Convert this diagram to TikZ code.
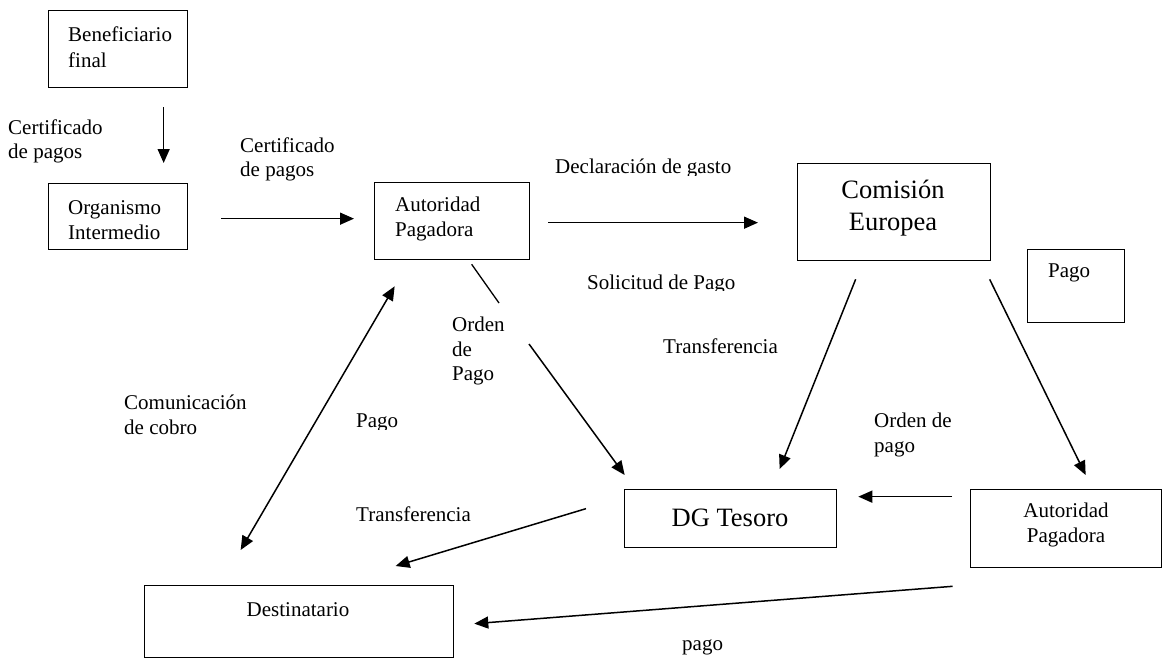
\documentclass[tikz,border=0pt]{standalone}
\usepackage{fontspec}
\setmainfont{Liberation Serif}
\usetikzlibrary{arrows.meta}
\begin{document}
\begin{tikzpicture}[x=1pt,y=-1pt,
  box/.style={draw, line width=1.3pt, inner sep=0pt, anchor=north west},
  lbl/.style={font=\fontsize{21}{24.5}\selectfont, inner sep=0pt, align=left, anchor=west},
  ctr/.style={font=\fontsize{21}{24.5}\selectfont, inner sep=0pt, align=center},
  big/.style={font=\fontsize{26.5}{32}\selectfont, inner sep=0pt, align=center},
  arr/.style={line width=1.5pt, -{Triangle[length=14pt,width=12pt]}},
  darr/.style={line width=1.5pt, {Triangle[length=14pt,width=12pt]}-{Triangle[length=14pt,width=12pt]}},
  ln/.style={line width=1.3pt}]
\useasboundingbox (0,0) rectangle (1164,659);
% boxes
\node[box, minimum width=139pt, minimum height=77pt] (bf) at (48,10) {};
\node[box, minimum width=139pt, minimum height=66pt] (ob) at (48,183) {};
\node[box, minimum width=155pt, minimum height=77pt] (ap1) at (374,182) {};
\node[box, minimum width=193pt, minimum height=97pt] (ce) at (797,163) {};
\node[box, minimum width=97pt, minimum height=73pt] (pg) at (1027,249) {};
\node[box, minimum width=212pt, minimum height=58pt] (dg) at (624,489) {};
\node[box, minimum width=191pt, minimum height=78pt] (ap2) at (970,489) {};
\node[box, minimum width=309pt, minimum height=72pt] (de) at (144,585) {};
% box texts
\node[lbl, font=\fontsize{21}{26.5}\selectfont] (bft) at (68,47) {Beneficiario\\final};
\node[lbl] (obt) at (68,220) {Organismo\\Intermedio};
\node[lbl] (ap1t) at (395,219) {Autoridad\\Pagadora};
\node[big] (cet) at (893,208.5) {Comisión\\Europea};
\node[lbl] (pgt) at (1048,273) {Pago};
\node[big] (dgt) at (730,518) {DG Tesoro};
\node[ctr] (ap2t) at (1066,525) {Autoridad\\Pagadora};
\node[ctr] (det) at (298,610) {Destinatario};
% free labels
\node[lbl] (l1) at (8,141.5) {Certificado\\de pagos};
\node[lbl] (l2) at (240,159.5) {Certificado\\de pagos};
\begin{scope}
  \clip (540,140) rectangle (760,175);
  \node[lbl] (l3) at (555,168) {Declaración de gasto};
\end{scope}
\begin{scope}
  \clip (570,260) rectangle (760,290.5);
  \node[lbl] (l4) at (587,284) {Solicitud de Pago};
\end{scope}
\node[lbl] (l5) at (452,351) {Orden\\de\\Pago};
\node[lbl] (l6) at (663,346) {Transferencia};
\node[lbl] (l7) at (124,415) {Comunicación\\de cobro};
\begin{scope}
  \clip (340,400) rectangle (420,429.5);
  \node[lbl] (l8) at (356,423) {Pago};
\end{scope}
\node[lbl] (l9) at (874,435) {Orden de\\pago};
\node[lbl] (l10) at (356,514) {Transferencia};
\node[lbl] (l11) at (682,647) {pago};
% connectors
\draw[arr] ([shift={(45.5,19)}]bf.south) -- ([shift={(45.5,-20)}]ob.north);
\draw[arr] ([shift={(33,2)}]ob.east) -- ([shift={(-20,-2.5)}]ap1.west);
\draw[arr] ([shift={(18,1.5)}]ap1.east) -- ([shift={(-39,10.5)}]ce.west);
\draw[arr] ([shift={(-38.5,18)}]ce.south) -- ([shift={(49,-20)}]dg.north);
\draw[arr] ([shift={(95.5,18)}]ce.south) -- ([shift={(19.5,-14)}]ap2.north);
\coordinate (m1) at (499,303);
\coordinate (m2) at (529,344);
\draw[ln] ([shift={(19.5,4)}]ap1.south) -- (m1);
\draw[arr] (m2) -- ([shift={(-106,-14)}]dg.north);
\draw[darr] ([shift={(-57.5,26)}]ap1.south) -- ([shift={(-58.5,-35)}]de.north);
\draw[arr] ([shift={(-18,-32)}]ap2.west) -- ([shift={(21,-22)}]dg.east);
\draw[arr] ([shift={(-38,-10)}]dg.west) -- ([shift={(96.5,-19)}]de.north);
\draw[arr] ([shift={(-113.5,18)}]ap2.south) -- ([shift={(20,2)}]de.east);
\end{tikzpicture}
\end{document}
